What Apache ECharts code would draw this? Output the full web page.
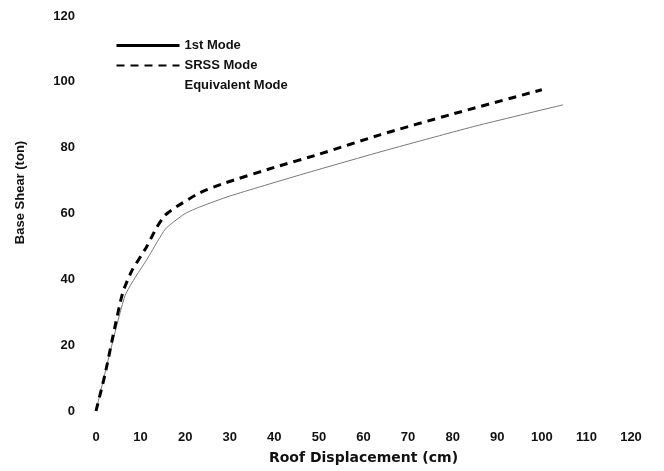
<!DOCTYPE html>
<html>
<head>
<meta charset="utf-8">
<script src="https://cdn.jsdelivr.net/npm/echarts@6/dist/echarts.min.js"></script>
<style>
  html, body { margin: 0; padding: 0; background: #fff; }
  #chart { width: 664px; height: 471px; }
</style>
</head>
<body>
<div id="chart"></div>
<script>
// 数据
const seriesNames = ['1st Mode', 'SRSS Mode', 'Equivalent Mode']
const xTicks = [0, 10, 20, 30, 40, 50, 60, 70, 80, 90, 100, 110, 120]
const yTicks = [0, 20, 40, 60, 80, 100, 120]

const firstModeX = [0, 3, 6.5, 9, 11.4, 14, 15.5, 17, 20, 23.3, 30, 45.7, 63.7, 79.4, 86.1, 104.7]
const firstModeY = [0, 17, 35, 41, 46, 52, 55.2, 57, 60, 62, 65.3, 71.7, 78.7, 84.5, 86.9, 93]

const srssX = [0, 2, 4, 6, 8, 11.4, 13.5, 15.5, 18, 23.3, 29, 40, 50, 63.7, 79.4, 100]
const srssY = [0, 11, 24, 36, 42.5, 50, 55.5, 59.5, 62, 66.3, 69.3, 74, 78, 83.9, 90, 97.6]

const zip = (xs, ys) => xs.map((x, i) => [x, ys[i]])

const chart = echarts.init(document.getElementById('chart'))

const labelStyle = {
  color: '#111',
  fontFamily: 'Liberation Sans, Arial, sans-serif',
  fontWeight: 'bold',
  fontSize: 13
}

const option = {
  backgroundColor: '#fff',
  animation: false,
  grid: { left: 96, right: 33, top: 16, bottom: 60 },
  legend: {
    orient: 'vertical',
    left: 110,
    top: 34,
    itemWidth: 63,
    itemHeight: 12,
    itemGap: 7,
    textStyle: { ...labelStyle },
    itemStyle: { opacity: 0 },
    data: [
      { name: seriesNames[0], lineStyle: { color: '#000', width: 3, type: 'solid' } },
      { name: seriesNames[1], lineStyle: { color: '#000', width: 2 } },
      { name: seriesNames[2], lineStyle: { opacity: 0 } }
    ]
  },
  xAxis: {
    type: 'value',
    min: 0,
    max: 120,
    interval: 10,
    name: 'Roof Displacement (cm)',
    nameLocation: 'middle',
    nameGap: 40,
    nameTextStyle: { color: '#111', fontFamily: 'DejaVu Sans, sans-serif', fontWeight: 'bold', fontSize: 14 },
    axisLine: { show: false },
    axisTick: { show: false },
    splitLine: { show: false },
    axisLabel: { ...labelStyle, margin: 20, formatter: v => xTicks.includes(v) ? String(v) : '' }
  },
  yAxis: {
    type: 'value',
    min: 0,
    max: 120,
    interval: 20,
    name: 'Base Shear (ton)',
    nameLocation: 'middle',
    nameGap: 69,
    nameTextStyle: { ...labelStyle, padding: [0, 0, 0, 42] },
    axisLine: { show: false },
    axisTick: { show: false },
    splitLine: { show: false },
    axisLabel: { ...labelStyle, margin: 21, formatter: v => yTicks.includes(v) ? String(v) : '' }
  },
  series: [
    {
      name: seriesNames[0],
      type: 'line',
      data: zip(firstModeX, firstModeY),
      smooth: 0.2,
      symbol: 'none',
      lineStyle: { color: '#777', width: 1 }
    },
    {
      name: seriesNames[1],
      type: 'line',
      data: zip(srssX, srssY),
      smooth: 0.2,
      symbol: 'none',
      lineStyle: { color: '#000', width: 3, type: [8, 6] }
    },
    {
      name: seriesNames[2],
      type: 'line',
      data: [],
      symbol: 'none',
      lineStyle: { opacity: 0 }
    }
  ]
}

chart.setOption(option)
</script>
</body>
</html>
